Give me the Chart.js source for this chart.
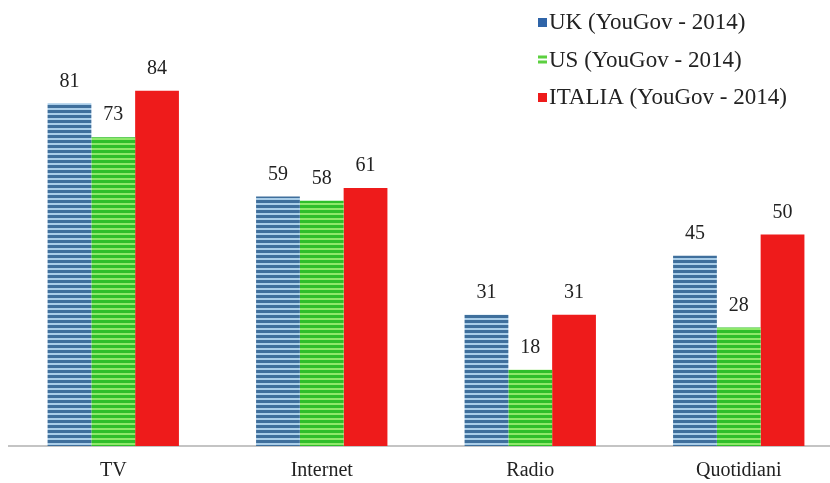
<!DOCTYPE html>
<html>
<head>
<meta charset="utf-8">
<script src="https://cdn.jsdelivr.net/npm/chart.js@4/dist/chart.umd.min.js"></script>
<style>
  html, body { margin: 0; padding: 0; background: #fff; overflow: hidden; }
  #wrap { position: relative; width: 843px; height: 483px; }
</style>
</head>
<body>
<div id="wrap"><canvas id="chart"></canvas></div>
<script>
// data
const categories = ['TV', 'Internet', 'Radio', 'Quotidiani'];
const seriesNames = ['UK (YouGov - 2014)', 'US (YouGov - 2014)', 'ITALIA (YouGov - 2014)'];
const ukValues = [81, 59, 31, 45];
const usValues = [73, 58, 18, 28];
const itValues = [84, 61, 31, 50];

const FONT = '"Liberation Serif", "DejaVu Serif", serif';

// striped fills
function stripes(dark, light, period) {
    const c = document.createElement('canvas');
    c.width = 4; c.height = period;
    const g = c.getContext('2d');
    g.fillStyle = light; g.fillRect(0, 0, 4, period);
    g.fillStyle = dark; g.fillRect(0, 0, 4, Math.ceil(period / 2));
    return g.createPattern(c, 'repeat');
}
const blueFill = stripes('#3f6f9c', '#a9cde8', 5);
const greenFill = stripes('#2fbf2a', '#8ee86a', 5);
const redFill = '#ee1b1b';
const fills = [blueFill, greenFill, redFill];
const swatch = ['#2f64a8', '#5cd040', '#ee1b1b'];

/* value labels above the bars */
const valueLabels = {
    id: 'valueLabels',
    afterDatasetsDraw(chart) {
        const ctx = chart.ctx;
        ctx.save();
        ctx.font = '20px ' + FONT;
        ctx.fillStyle = '#222';
        ctx.textAlign = 'center';
        ctx.textBaseline = 'bottom';
        chart.data.datasets.forEach((ds, i) => {
            chart.getDatasetMeta(i).data.forEach((bar, j) => {
                ctx.fillText(ds.data[j], bar.x, bar.y - 12);
            });
        });
        ctx.restore();
    }
};

/* vertical legend, top right */
const sideLegend = {
    id: 'sideLegend',
    afterDraw(chart) {
        const ctx = chart.ctx;
        ctx.save();
        ctx.font = '23px ' + FONT;
        ctx.textBaseline = 'middle';
        ctx.textAlign = 'left';
        seriesNames.forEach((name, i) => {
            const y = 22 + i * 37.5;
            ctx.fillStyle = swatch[i];
            if (i === 1) {
                ctx.fillRect(538, y - 4, 9, 3);
                ctx.fillRect(538, y + 1, 9, 3);
            } else {
                ctx.fillRect(538, y - 4, 9, 9);
            }
            ctx.fillStyle = '#222';
            ctx.fillText(name, 549, y + 1);
        });
        ctx.restore();
    }
};

new Chart(document.getElementById('chart'), {
    type: 'bar',
    data: {
        labels: categories,
        datasets: [ukValues, usValues, itValues].map((vals, i) => ({
            label: seriesNames[i],
            data: vals,
            backgroundColor: fills[i],
            borderWidth: 0,
            categoryPercentage: 0.63,
            barPercentage: 1
        }))
    },
    options: {
        responsive: true,
        maintainAspectRatio: false,
        animation: false,
        layout: { padding: { left: 9, right: 0, top: 23, bottom: -5 } },
        plugins: { legend: { display: false }, tooltip: { enabled: false } },
        scales: {
            x: {
                grid: { display: false },
                border: { display: true, color: '#c4c4c4', width: 2 },
                ticks: { color: '#222', font: { family: FONT, size: 20 }, padding: 5 }
            },
            y: {
                display: false,
                min: 0,
                max: 100
            }
        }
    },
    plugins: [valueLabels, sideLegend]
});
</script>
</body>
</html>
